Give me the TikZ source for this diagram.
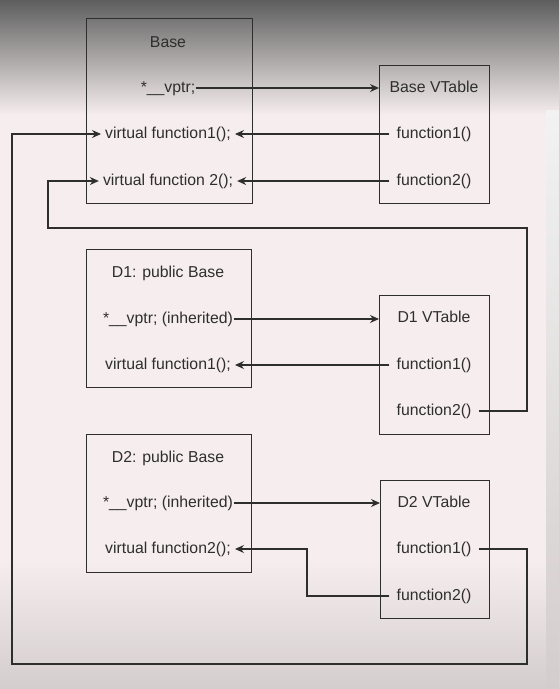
\documentclass[tikz,border=0pt]{standalone}
\usepackage{fontspec}
\setmainfont{Liberation Sans}
\usetikzlibrary{arrows.meta,positioning,calc}
\definecolor{ink}{HTML}{2E2E2E}
\definecolor{paper}{HTML}{F6EEEE}
\definecolor{shadetop}{HTML}{5E5E5E}
\definecolor{floor}{HTML}{D4CDCD}
\definecolor{strip}{HTML}{F2F2F2}

\begin{document}
\begin{tikzpicture}[
 x=1pt,y=-1pt,
 every node/.style={font=\fontsize{15.8}{18}\selectfont,text=ink},
 box/.style={draw=ink,line width=1.2pt,anchor=north west,inner sep=0pt},
 member/.style={inner xsep=4pt,inner ysep=1pt,text height=11pt,text depth=3pt},
 ptr/.style={member,inner xsep=0.5pt},
 entry/.style={member,inner xsep=7pt},
 wire/.style={draw=ink,line width=1.2pt},
 arr/.style={wire,-{Stealth[length=9pt,width=8pt]}}
]
 \useasboundingbox (0,0) rectangle (559,689);
 % backdrop
 \fill[paper] (0,0) rectangle (559,689);
 \shade[top color=shadetop,bottom color=paper] (0,0) rectangle (559,115);
 \shade[top color=paper,bottom color=floor] (0,560) rectangle (559,689);
 \shade[top color=strip,bottom color=floor] (546,110) rectangle (559,689);

 % class Base and its table
 \node[box,minimum width=166pt,minimum height=185pt] (base) at (86,18) {};
 \node[member] (basettl) at (168,43) {Base};
 \node[ptr] (bvptr) at (168,88) {*\_\_vptr;};
 \node[member] (bvf1) at (168,134) {virtual function1();};
 \node[member] (bvf2) at (168,181) {virtual function 2();};
 \node[box,minimum width=110pt,minimum height=138pt] (bvt) at (379,65) {};
 \node[member] (bvtttl) at (434,88) {Base VTable};
 \node[entry] (bt1) at (434,134) {function1()};
 \node[entry] (bt2) at (434,181) {function2()};

 % class D1 and its table
 \node[box,minimum width=165pt,minimum height=138pt] (d1) at (86,249) {};
 \node[member] (d1ttl) at (168,273) {D1: public Base};
 \node[ptr] (d1vptr) at (168,319) {*\_\_vptr; (inherited)};
 \node[member] (d1vf1) at (168,365) {virtual function1();};
 \node[box,minimum width=110pt,minimum height=139pt] (d1vt) at (379,295) {};
 \node[member] (d1vtttl) at (434,318) {D1 VTable};
 \node[entry] (d1t1) at (434,365) {function1()};
 \node[entry] (d1t2) at (434,411) {function2()};

 % class D2 and its table
 \node[box,minimum width=165pt,minimum height=138pt] (d2) at (86,434) {};
 \node[member] (d2ttl) at (168,458) {D2: public Base};
 \node[ptr] (d2vptr) at (168,503) {*\_\_vptr; (inherited)};
 \node[member] (d2vf2) at (168,549) {virtual function2();};
 \node[box,minimum width=109pt,minimum height=138pt] (d2vt) at (380,480) {};
 \node[member] (d2vtttl) at (434,503) {D2 VTable};
 \node[entry] (d2t1) at (434,549) {function1()};
 \node[entry] (d2t2) at (434,596) {function2()};

 % rails for the long connectors
 \coordinate (railR) at (527,0);
 \coordinate (railL) at (12,0);
 \coordinate (railM) at (48,0);
 \coordinate (railD) at (307,0);
 \coordinate (railT) at (0,228);
 \coordinate (railB) at (0,664);

 \draw[arr] (bvptr.east) -- (bvt.west |- bvptr);
 \draw[arr] (bt1.west) -- (bvf1.east);
 \draw[arr] (bt2.west) -- (bvf2.east);

 \draw[arr] (d1vptr.east) -- (d1vt.west |- d1vptr);
 \draw[arr] (d1t1.west) -- (d1vf1.east);
 \draw[arr] (d1t2.east) -- (railR |- d1t2) -- (railR |- railT)
   -- (railM |- railT) -- (railM |- bvf2) -- (bvf2.west);

 \draw[arr] (d2vptr.east) -- (d2vt.west |- d2vptr);
 \draw[arr] (d2t2.west) -- (railD |- d2t2) -- (railD |- d2vf2) -- (d2vf2.east);
 \draw[arr] (d2t1.east) -- (railR |- d2t1) -- (railR |- railB)
   -- (railL |- railB) -- (railL |- bvf1) -- (bvf1.west);
\end{tikzpicture}
\end{document}
